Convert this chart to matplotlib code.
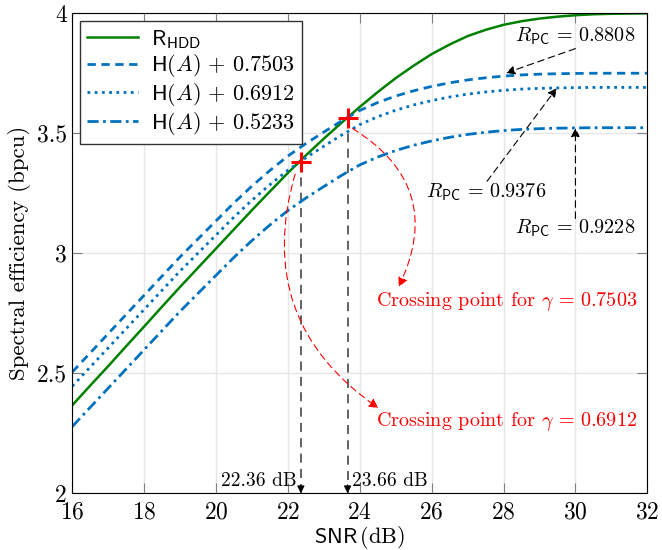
import numpy as np
import matplotlib
matplotlib.use("Agg")
import matplotlib.pyplot as plt

plt.rcParams['font.family'] = 'serif'
plt.rcParams['font.serif'] = ['cmr10', 'DejaVu Serif']
plt.rcParams['mathtext.fontset'] = 'cm'
plt.rcParams['axes.unicode_minus'] = False
plt.rcParams['axes.formatter.use_mathtext'] = True

# data
snr = [16, 16.5, 17, 17.5, 18, 18.5, 19, 19.5, 20, 20.5, 21, 21.5, 22, 22.5,
       23, 23.5, 24, 24.5, 25, 25.5, 26, 26.5, 27, 27.5, 28, 28.5, 29, 29.5,
       30, 30.5, 31, 31.5, 32]
r_hdd = [2.367, 2.449, 2.53, 2.613, 2.695, 2.778, 2.86, 2.94, 3.02, 3.10,
         3.18, 3.258, 3.335, 3.408, 3.478, 3.545, 3.61, 3.672, 3.73, 3.782,
         3.83, 3.87, 3.905, 3.931, 3.952, 3.967, 3.978, 3.986, 3.992, 3.996,
         3.998, 3.999, 4.0]
h_a = [1.755, 1.835, 1.915, 1.995, 2.075, 2.155, 2.235, 2.31, 2.385, 2.46,
       2.53, 2.595, 2.655, 2.707, 2.755, 2.802, 2.845, 2.878, 2.905, 2.927,
       2.945, 2.96, 2.972, 2.981, 2.988, 2.993, 2.996, 2.998, 2.999, 3.0,
       3.0, 3.0, 3.0]
gammas = [0.7503, 0.6912, 0.5233]
gamma_styles = [(0, (3, 2)), (0, (1, 1.6)), (0, (4, 1.6, 1, 1.6))]

cross_snr = [22.36, 23.66]
cross_val = [3.38, 3.565]

# R_PC labels: text position, arrow start, arrow tip
rpc_vals = ['0.8808', '0.9376', '0.9228']
rpc_text = [(30.0, 3.904), (27.51, 3.253), (30.0, 3.104)]
rpc_from = [(30.0, 3.853), (27.54, 3.30), (30.0, 3.145)]
rpc_to = [(28.07, 3.751), (29.48, 3.688), (30.0, 3.522)]

blue = '#0072BD'
green = '#008000'

fig = plt.figure(figsize=(6.62, 5.5), dpi=100)
ax = fig.add_axes([72.3 / 662, 1 - 493.3 / 550, 575 / 662, 480 / 550])

ax.plot(snr, r_hdd, color=green, lw=1.8, label=r'$\mathsf{R}_{\mathsf{HDD}}$')
for g, ls in zip(gammas, gamma_styles):
    ax.plot(snr, np.array(h_a) + g, color=blue, lw=2, linestyle=ls,
            label=r'$\mathsf{H}(A)\,+\,%.4f$' % g)

# vertical drop lines from the crossing points
for x, y in zip(cross_snr, cross_val):
    ax.plot([x, x], [y, 2.0], color='#555555', lw=1.3, linestyle=(0, (5, 3.5)), zorder=1)
    ax.annotate('', xy=(x, 2.0), xytext=(x, 2.035),
                arrowprops=dict(arrowstyle='-|>', color='k', lw=0.8,
                                mutation_scale=11, shrinkA=0, shrinkB=0))
ax.plot(cross_snr, cross_val, linestyle='none', marker='+', color='red',
        markersize=14, mew=2.2, zorder=5)
ax.text(cross_snr[0] - 0.12, 2.05, '%.2f dB' % cross_snr[0], ha='right', va='center', fontsize=14)
ax.text(cross_snr[1] + 0.12, 2.05, '%.2f dB' % cross_snr[1], ha='left', va='center', fontsize=14)

# red curved arrows to the crossing labels
red_kw = dict(arrowstyle='-|>', color='red', lw=0.8, linestyle=(0, (6, 4)),
              mutation_scale=14, shrinkA=0, shrinkB=0)
ax.annotate('', xy=(25.08, 2.86), xytext=(23.8, 3.52),
            arrowprops=dict(connectionstyle='arc3,rad=-0.45', **red_kw))
ax.annotate('', xy=(24.52, 2.355), xytext=(22.2, 3.33),
            arrowprops=dict(connectionstyle='arc3,rad=0.36', **red_kw))
ax.text(24.45, 2.80, r'Crossing point for $\gamma\,=\,%.4f$' % gammas[0],
        color='red', fontsize=14.5, va='center')
ax.text(24.45, 2.30, r'Crossing point for $\gamma\,=\,%.4f$' % gammas[1],
        color='red', fontsize=14.5, va='center')

# R_PC annotations
for v, t, f, tip in zip(rpc_vals, rpc_text, rpc_from, rpc_to):
    ax.annotate('', xy=tip, xytext=f,
                arrowprops=dict(arrowstyle='-|>', color='k', lw=0.8, linestyle=(0, (6, 4)),
                                mutation_scale=13, shrinkA=0, shrinkB=0))
    ax.text(t[0], t[1], r'$R_{\mathsf{PC}}\,=\,%s$' % v, ha='center', va='center', fontsize=14.5)

ax.set_xlim(16, 32)
ax.set_ylim(2, 4)
ax.set_xticks(range(16, 33, 2))
ax.set_yticks([2, 2.5, 3, 3.5, 4])
ax.set_yticklabels(['2', '2.5', '3', '3.5', '4'])
ax.tick_params(direction='in', length=7, color='gray', top=True, right=True,
               labelsize=17, pad=4)
ax.tick_params(axis='x', pad=6)
ax.grid(True, color='#e6e6e6', lw=1)
ax.set_axisbelow(True)
ax.set_xlabel(r'$\mathsf{SNR}\,(\mathrm{dB})$', fontsize=16, labelpad=0)
ax.set_ylabel('Spectral efficiency (bpcu)', fontsize=16.5, labelpad=4)

leg = ax.legend(loc='upper left', bbox_to_anchor=(0.0, 1.0), fontsize=16,
                fancybox=False, framealpha=1, edgecolor='#333333',
                handlelength=2.3, labelspacing=0.08, borderaxespad=0.35,
                borderpad=0.3, handletextpad=0.6)
leg.get_frame().set_linewidth(1)

fig.savefig('out.png', dpi=100)
